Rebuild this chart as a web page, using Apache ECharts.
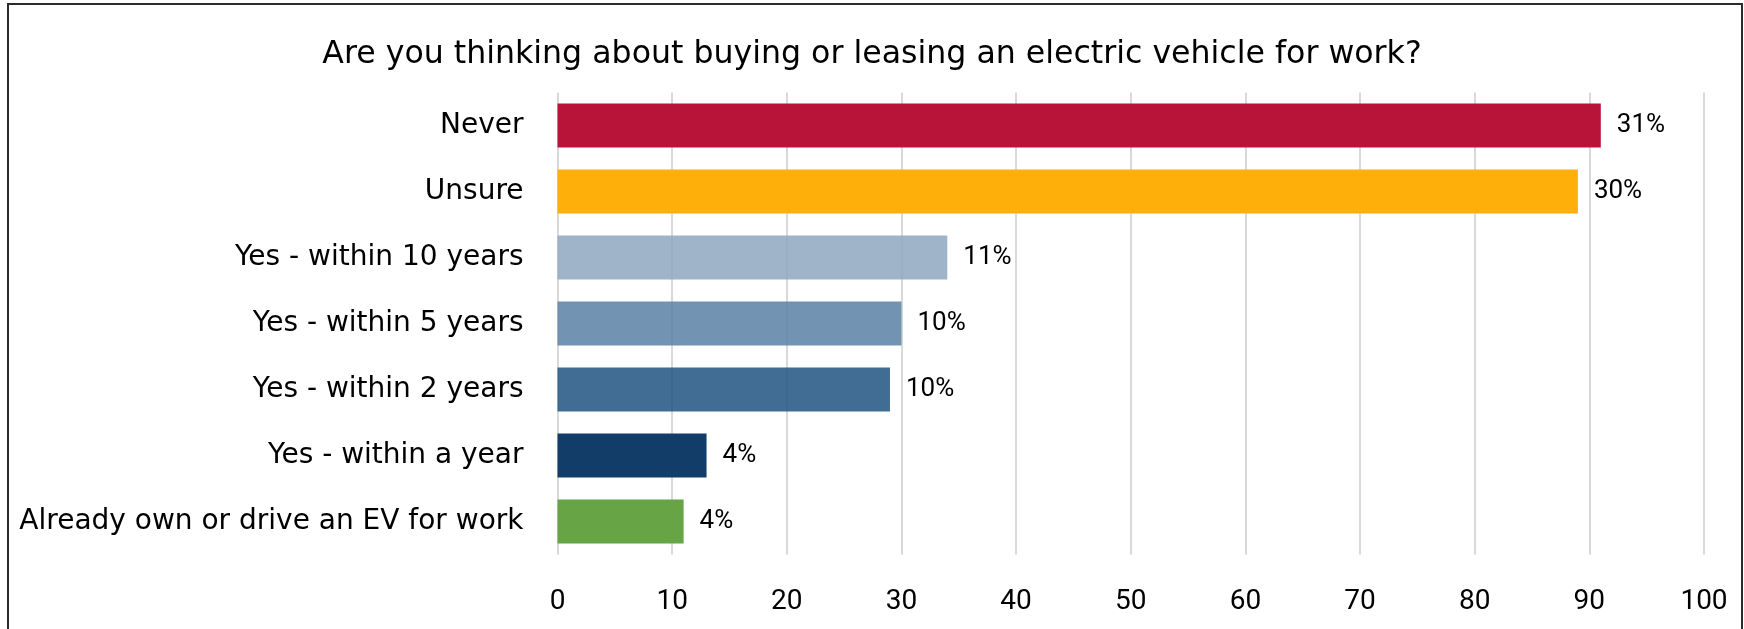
<!DOCTYPE html>
<html>
<head>
<meta charset="utf-8">
<script src="https://cdn.jsdelivr.net/npm/echarts@6/dist/echarts.min.js"></script>
<style>
  html, body { margin: 0; padding: 0; background: #fff; }
  #chart { width: 1744px; height: 629px; }
</style>
</head>
<body>
<div id="chart"></div>
<script>
const titleText = 'Are you thinking about buying or leasing an electric vehicle for work?';
const categories = [
  'Never',
  'Unsure',
  'Yes - within 10 years',
  'Yes - within 5 years',
  'Yes - within 2 years',
  'Yes - within a year',
  'Already own or drive an EV for work'
];
const values = [91, 89, 34, 30, 29, 13, 11];
const valueLabels = ['31%', '30%', '11%', '10%', '10%', '4%', '4%'];
const barColors = [
  '#B8143A',
  '#FFAF0A',
  'rgba(143,167,192,0.85)',
  'rgba(90,128,164,0.85)',
  'rgba(32,82,129,0.85)',
  '#123D68',
  '#66A446'
];
const xTicks = { min: 0, max: 100, interval: 10 };

const FONT = 'DejaVu Sans';
const NUMFONT = 'Roboto';
const chart = echarts.init(document.getElementById('chart'), null, { renderer: 'canvas' });
chart.setOption({
  backgroundColor: '#ffffff',
  animation: false,
  title: {
    text: titleText,
    left: 'center',
    top: 34,
    textStyle: { fontFamily: FONT, fontSize: 31.6, fontWeight: 'normal', color: '#000' }
  },
  graphic: [{
    type: 'rect',
    shape: { x: 8, y: 4, width: 1734, height: 700 },
    style: { fill: 'none', stroke: '#2b2b2b', lineWidth: 2 },
    silent: true
  }],
  grid: { left: 557.5, right: 40, top: 92.5, bottom: 74.5, containLabel: false },
  xAxis: {
    type: 'value',
    min: xTicks.min, max: xTicks.max, interval: xTicks.interval,
    axisLine: { show: false },
    axisTick: { show: false },
    splitLine: { show: true, lineStyle: { color: '#D9D9D9', width: 2 } },
    axisLabel: { margin: 33, fontFamily: NUMFONT, fontSize: 28, color: '#000' }
  },
  yAxis: {
    type: 'category',
    data: categories,
    inverse: true,
    axisLine: { show: false },
    axisTick: { show: false },
    axisLabel: { margin: 34, fontFamily: FONT, fontSize: 28, color: '#000' }
  },
  series: [{
    type: 'bar',
    barCategoryGap: '33%',
    data: values.map((v, i) => ({ value: v, itemStyle: { color: barColors[i] } })),
    label: {
      show: true,
      position: 'right',
      distance: 16,
      fontFamily: NUMFONT,
      fontSize: 26,
      color: '#000',
      formatter: p => valueLabels[p.dataIndex]
    }
  }]
});
</script>
</body>
</html>
